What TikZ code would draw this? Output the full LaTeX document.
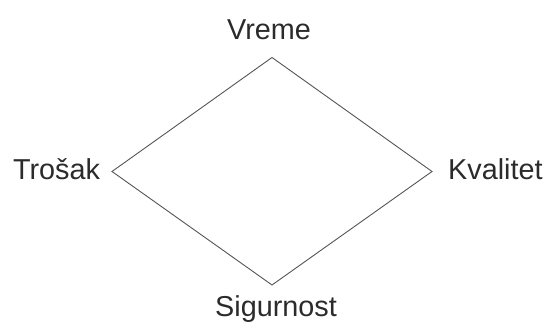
\documentclass[tikz,border=0pt]{standalone}
\usepackage{fontspec}
\setmainfont{Liberation Sans}
\usepackage{tikz}
\usetikzlibrary{positioning, calc}
\usepackage{xcolor}
\definecolor{edgegray}{HTML}{555555}
\definecolor{labelgray}{HTML}{2B2B2B}

\begin{document}
\begin{tikzpicture}[x=1pt, y=1pt,
    corner/.style={text=labelgray, inner sep=0pt, font=\fontsize{28.8}{34}\selectfont},
    side/.style={draw=edgegray, line width=0.9pt}]
    \useasboundingbox (0,0) rectangle (550,324);
    % corners of the diamond
    \coordinate (top) at (272,266.5);
    \coordinate (left) at (112,152.5);
    \coordinate (right) at (432,152.5);
    \coordinate (bottom) at (272,39);
    % labels
    \node[corner, anchor=base] (vreme) at (269,284.7) {Vreme};
    \node[corner, anchor=base] (trosak) at (56.5,144.5) {Trošak};
    \node[corner, anchor=base west] (kvalitet) at (448,144.5) {Kvalitet};
    \node[corner, anchor=base] (sigurnost) at (276,7.3) {Sigurnost};
    % sides
    \draw[side, line join=miter] (top) -- (right) -- (bottom) -- (left) -- cycle;
\end{tikzpicture}
\end{document}
